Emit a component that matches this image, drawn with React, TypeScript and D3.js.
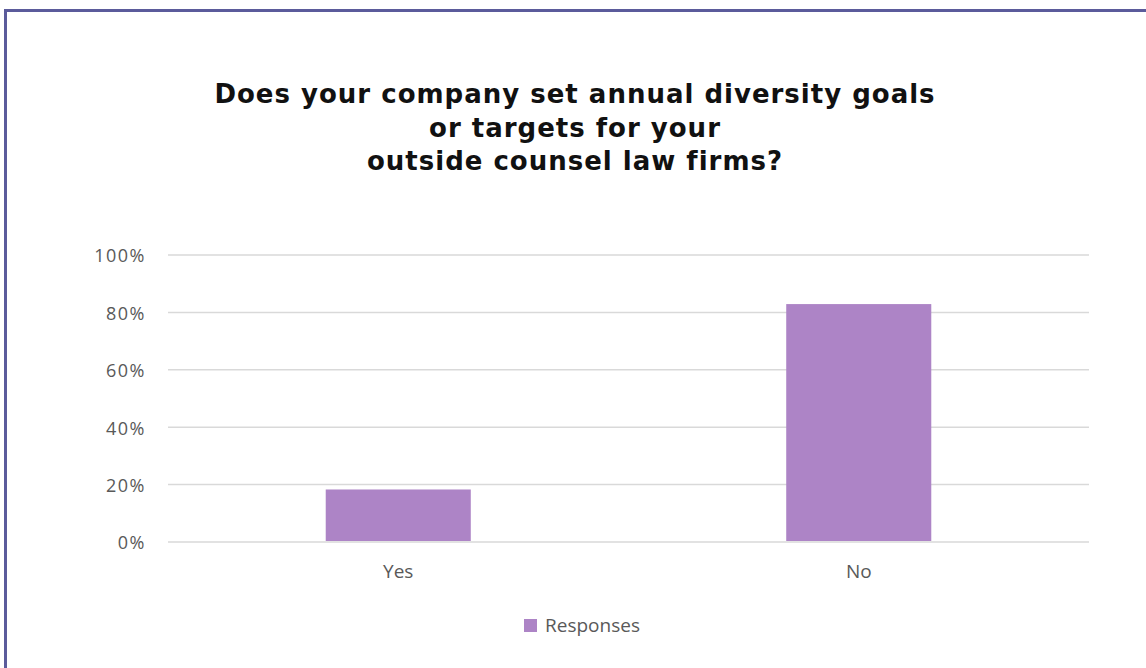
import React from "react";
import * as d3 from "d3";

const categories = ["Yes", "No"];
const responses = [18.3, 82.9];
const yTicks = [0, 20, 40, 60, 80, 100];
const titleLines = [
  "Does your company set annual diversity goals",
  "or targets for your",
  "outside counsel law firms?",
];
const seriesName = "Responses";

export default function App() {
  const W = 1146, H = 668;
  const left = 168, right = 1089, top = 255, bottom = 542;
  const x = d3.scaleBand<string>().domain(categories).range([left, right]).paddingInner(0.685).paddingOuter(0.3425);
  const y = d3.scaleLinear().domain([0, 100]).range([bottom, top]);
  const barColor = "#ad84c6";
  const textColor = "#595959";
  const font = "'Open Sans', 'Liberation Sans', sans-serif";
  return (
    <svg width={W} height={H} style={{ position: "absolute", left: 0, top: 0, background: "#fff" }}>
      <rect x={0} y={0} width={W} height={H} fill="#fff" />
      <path d={`M5.5,${H} L5.5,10.5 L${W},10.5`} fill="none" stroke="#5b5b9b" strokeWidth={3} />
      {titleLines.map((t, i) => (
        <text key={i} x={575} y={103 + i * 33.5} textAnchor="middle" fontFamily="'DejaVu Sans', sans-serif"
          fontWeight={700} fontSize={26} letterSpacing={1} fill="#111">{t}</text>
      ))}
      {yTicks.map((v) => (
        <g key={v}>
          <line x1={left} x2={right} y1={y(v)} y2={y(v)} stroke="#d9d9d9" strokeWidth={1.5} />
          <text x={146} y={y(v) + 1} dy="0.35em" textAnchor="end" fontFamily={font} fontSize={18} letterSpacing={1.5} fill={textColor}>{v}%</text>
        </g>
      ))}
      {categories.map((c, i) => (
        <g key={c}>
          <rect x={x(c)} y={y(responses[i])} width={x.bandwidth()} height={y(0) - y(responses[i]) - 1} fill={barColor} />
          <text x={(x(c) as number) + x.bandwidth() / 2} y={571} dy="0.35em" textAnchor="middle" fontFamily={font} fontSize={19} fill={textColor}>{c}</text>
        </g>
      ))}
      <rect x={524} y={619} width={13} height={13} fill={barColor} />
      <text x={545} y={625} dy="0.35em" fontFamily={font} fontSize={19} fill={textColor}>{seriesName}</text>
    </svg>
  );
}
